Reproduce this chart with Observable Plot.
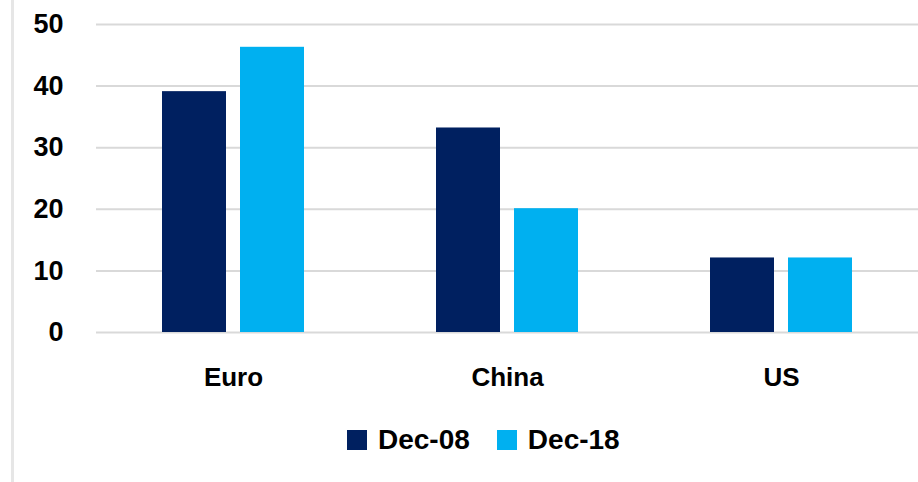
<!DOCTYPE html>
<html>
<head>
<meta charset="utf-8">
<script src="https://cdn.jsdelivr.net/npm/d3@7"></script>
<script src="https://cdn.jsdelivr.net/npm/@observablehq/plot@0.6"></script>
<style>
  html, body { margin: 0; padding: 0; background: #fff; }
  body { width: 918px; height: 482px; position: relative; overflow: hidden; font-family: "Liberation Sans", Arial, sans-serif; }
  #frame { position: absolute; left: 11px; top: 0; width: 3px; height: 482px; background: #e6e6e6; }
  #chart { position: absolute; left: 0; top: 0; }
  #legend { position: absolute; left: 347px; top: 426px; display: flex; align-items: flex-start; font-size: 28px; font-weight: bold; line-height: 28px; color: #000; }
  .item { display: flex; align-items: flex-start; margin-right: 27px; }
  .sw { width: 20px; height: 20px; margin-top: 4px; margin-right: 11px; }
</style>
</head>
<body>
<div id="frame"></div>
<div id="chart"></div>
<div id="legend"></div>
<script>
const categories = ["Euro", "China", "US"];
const series = ["Dec-08", "Dec-18"];
const dec08 = [39.1, 33.2, 12.1];
const dec18 = [46.3, 20.1, 12.1];
const yTicks = [0, 10, 20, 30, 40, 50];
const colors = ["#002060", "#00B0F0"];

const data = [];
categories.forEach((c, i) => {
  data.push({cat: c, series: series[0], value: dec08[i]});
  data.push({cat: c, series: series[1], value: dec18[i]});
});

const chart = Plot.plot({
  width: 918,
  height: 410,
  marginLeft: 96,
  marginRight: 0,
  marginTop: 24,
  marginBottom: 78,
  style: {fontFamily: "Liberation Sans, Arial, sans-serif", color: "#000", background: "transparent", overflow: "visible"},
  fx: {domain: categories, padding: 0, label: null},
  x: {domain: series, paddingInner: 0.18, paddingOuter: 0.846, axis: null},
  y: {domain: [0, 50], label: null},
  color: {domain: series, range: colors},
  marks: [
    Plot.gridY(yTicks, {stroke: "#d9d9d9", strokeOpacity: 1, strokeWidth: 2}),
    Plot.barY(data, {fx: "cat", x: "series", y: "value", fill: "series"}),
    Plot.axisY(yTicks, {tickSize: 0, tickPadding: 33, fontSize: 27, fontWeight: "bold", label: null, fill: "#000"}),
    Plot.axisFx({anchor: "bottom", tickSize: 0, tickPadding: 35, fontSize: 26, fontWeight: "bold", label: null, fill: "#000"})
  ]
});
document.getElementById("chart").appendChild(chart);

const legend = document.getElementById("legend");
series.forEach((s, i) => {
  const item = document.createElement("div");
  item.className = "item";
  const sw = document.createElement("div");
  sw.className = "sw";
  sw.style.background = colors[i];
  const t = document.createElement("span");
  t.textContent = s;
  item.appendChild(sw);
  item.appendChild(t);
  legend.appendChild(item);
});
</script>
</body>
</html>
